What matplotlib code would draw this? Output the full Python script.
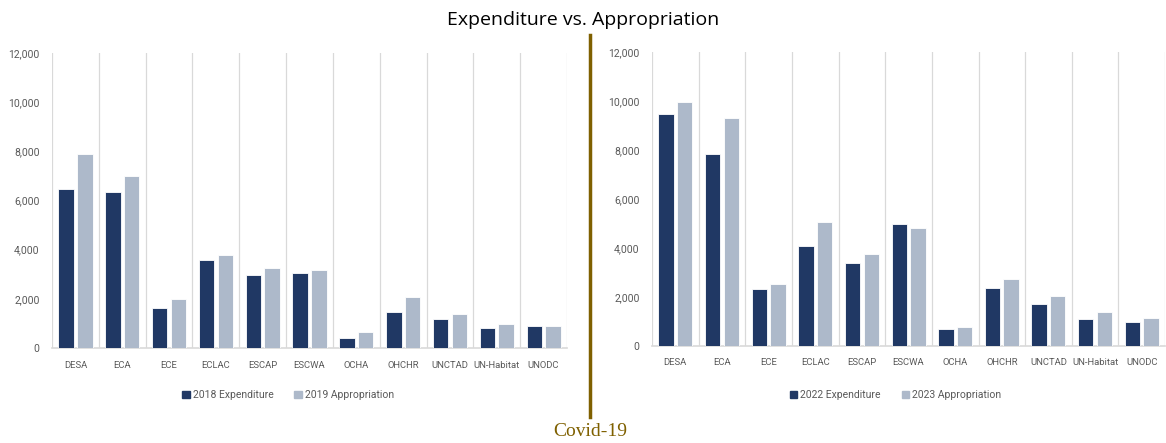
import matplotlib.pyplot as plt
import numpy as np
from matplotlib.ticker import FuncFormatter
from matplotlib.patches import Patch

''' Expenditure vs. Appropriation, before and after Covid-19 '''

entities = ['DESA', 'ECA', 'ECE', 'ECLAC', 'ESCAP', 'ESCWA', 'OCHA', 'OHCHR',
            'UNCTAD', 'UN-Habitat', 'UNODC']

exp_2018 = [6450, 6350, 1630, 3580, 2970, 3050, 410, 1470, 1195, 830, 910]
app_2019 = [7900, 7000, 1990, 3770, 3270, 3190, 640, 2090, 1400, 965, 905]

exp_2022 = [9450, 7830, 2330, 4070, 3380, 4960, 710, 2350, 1700, 1120, 990]
app_2023 = [9950, 9310, 2520, 5050, 3750, 4830, 790, 2750, 2040, 1380, 1140]

dark = '#203864'
light = '#ADB9CA'
grey = '#595959'
narrow = 'Roboto'

fig = plt.figure(figsize=(11.66, 4.43), dpi=100)

ax1 = fig.add_axes([0.0446, 0.2144, 0.4417, 0.666])
ax2 = fig.add_axes([0.5592, 0.2190, 0.4400, 0.6637])


def draw(ax, a, b, la, lb):
    x = np.arange(len(entities))
    ax.bar(x - 0.2, a, width=0.33, color=dark, edgecolor='white', linewidth=0.6, zorder=3)
    ax.bar(x + 0.2, b, width=0.33, color=light, edgecolor='white', linewidth=0.6, zorder=3)
    for v in np.arange(-0.5, len(entities), 1.0):
        ax.axvline(v, color='#D9D9D9', linewidth=0.9, zorder=1)
    ax.set_xlim(-0.5, len(entities) - 0.5)
    ax.set_ylim(0, 12000)
    ax.set_yticks(range(0, 12001, 2000))
    ax.yaxis.set_major_formatter(FuncFormatter(lambda v, p: f'{int(v):,}'))
    ax.set_xticks(x)
    ax.set_xticklabels(entities)
    ax.tick_params(axis='both', length=0, labelcolor=grey)
    ax.tick_params(axis='x', pad=9, labelsize=6.8)
    ax.tick_params(axis='y', pad=9, labelsize=7.5)
    for lab in ax.get_xticklabels() + ax.get_yticklabels():
        lab.set_family(narrow)
    for s in ['top', 'right', 'left']:
        ax.spines[s].set_visible(False)
    ax.spines['bottom'].set_color('#D9D9D9')
    ax.spines['bottom'].set_linewidth(1.2)
    return [Patch(color=dark, label=la), Patch(color=light, label=lb)]


h1 = draw(ax1, exp_2018, app_2019, '2018 Expenditure', '2019 Appropriation')
h2 = draw(ax2, exp_2022, app_2023, '2022 Expenditure', '2023 Appropriation')

for h, cx in [(h1, 0.247), (h2, 0.768)]:
    fig.legend(handles=h, loc='center', bbox_to_anchor=(cx, 0.108), ncol=2, frameon=False,
               prop={'family': narrow, 'size': 7.5}, labelcolor=grey,
               handlelength=0.7, handleheight=0.7, handletextpad=0.3, columnspacing=2.0)

fig.text(0.5, 0.955, 'Expenditure vs. Appropriation', ha='center', va='center',
         fontsize=14, family='Open Sans')

# Covid-19 divider
fig.add_artist(plt.Line2D([0.506, 0.506], [0.058, 0.92], color='#7F6000', linewidth=2.5))
fig.text(0.506, 0.025, 'Covid-19', ha='center', va='center', fontsize=14,
         family='Liberation Serif', color='#7F6000')

plt.savefig('out.png', dpi=100)
